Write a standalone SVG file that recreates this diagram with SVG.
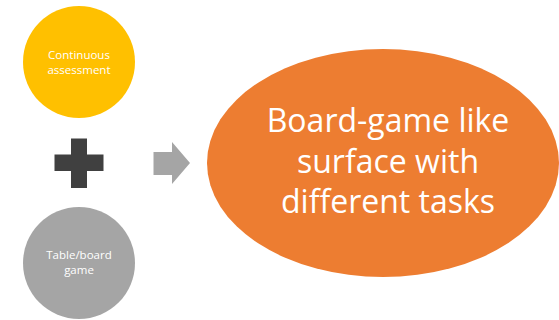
<svg xmlns="http://www.w3.org/2000/svg" width="559" height="320" viewBox="0 0 559 320">
  <style>
    .lbl { font-family: "Open Sans", "Noto Sans", "Liberation Sans", sans-serif; fill: #ffffff; text-anchor: middle; }
    .small { font-size: 11.5px; }
    .big { font-size: 32px; }
  </style>
  <rect width="559" height="320" fill="#ffffff"/>
  <g id="continuous-assessment">
    <circle cx="79" cy="62" r="56" fill="#FFC000"/>
    <text class="lbl small" x="79" y="59">Continuous</text>
    <text class="lbl small" x="79" y="74">assessment</text>
  </g>
  <g id="plus">
    <path d="M71 138.5 H87 V154.5 H103.5 V171 H87 V188 H71 V171 H54.5 V154.5 H71 Z" fill="#404040"/>
  </g>
  <g id="table-board-game">
    <circle cx="79" cy="263" r="56" fill="#A5A5A5"/>
    <text class="lbl small" x="79" y="259">Table/board</text>
    <text class="lbl small" x="79" y="274">game</text>
  </g>
  <g id="connectors">
    <path d="M153.5 152 H172 V142 L190 163 L172 184 V175 H153.5 Z" fill="#A5A5A5"/>
  </g>
  <g id="board-game-surface">
    <ellipse cx="383" cy="163" rx="176" ry="114" fill="#ED7D31"/>
    <text class="lbl big" x="388" y="132">Board-game like</text>
    <text class="lbl big" x="388" y="173">surface with</text>
    <text class="lbl big" x="388" y="213">different tasks</text>
  </g>
</svg>
